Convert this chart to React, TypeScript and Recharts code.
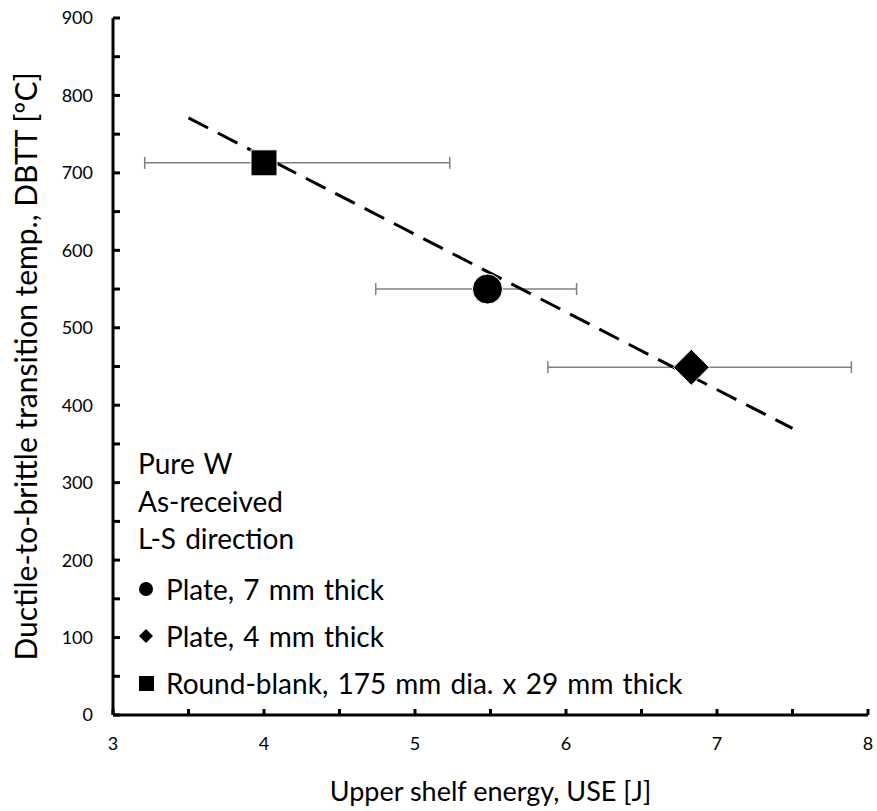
import React from 'react';
import { ScatterChart, Scatter, XAxis, YAxis, ErrorBar, Label } from 'recharts';

// measured points (x = USE [J], y = DBTT [C])
const plate7X = [5.48];
const plate7Y = [550];
const plate7Lo = [4.74];
const plate7Hi = [6.07];

const plate4X = [6.83];
const plate4Y = [449];
const plate4Lo = [5.88];
const plate4Hi = [7.89];

const roundX = [4.0];
const roundY = [713];
const roundLo = [3.21];
const roundHi = [5.23];

// linear fit end points
const fitX = [3.5, 7.5];
const fitY = [771, 370];

const xTicks = [3, 3.5, 4, 4.5, 5, 5.5, 6, 6.5, 7, 7.5, 8];
const yTicks = [0, 50, 100, 150, 200, 250, 300, 350, 400, 450, 500, 550, 600, 650, 700, 750, 800, 850, 900];

const FONT = 'Lato, "Open Sans", sans-serif';

const build = (xs: number[], ys: number[], lo: number[], hi: number[]) =>
  xs.map((x, i) => ({ x, y: ys[i], err: [x - lo[i], hi[i] - x] }));

const plate7 = build(plate7X, plate7Y, plate7Lo, plate7Hi);
const plate4 = build(plate4X, plate4Y, plate4Lo, plate4Hi);
const round = build(roundX, roundY, roundLo, roundHi);
const fit = fitX.map((x, i) => ({ x, y: fitY[i] }));

const XTick = (props: any) => {
  const { x, y, payload } = props;
  if (!Number.isInteger(payload.value)) return <g />;
  return (
    <text x={x} y={y} dy="0.71em" textAnchor="middle" fontSize={18} fontFamily={FONT} fill="#000">
      {payload.value}
    </text>
  );
};

const YTick = (props: any) => {
  const { x, y, payload } = props;
  if (payload.value % 100 !== 0) return <g />;
  return (
    <text x={x} y={y} dy="0.355em" textAnchor="end" fontSize={18} fontFamily={FONT} fill="#000">
      {payload.value}
    </text>
  );
};

const CircleShape = (p: any) => <circle cx={p.cx} cy={p.cy} r={15} fill="#000" stroke="#fff" strokeWidth={1} />;
const SquareShape = (p: any) => <rect x={p.cx - 13} y={p.cy - 13} width={26} height={26} fill="#000" stroke="#fff" strokeWidth={1} />;
const DiamondShape = (p: any) => (
  <polygon
    points={`${p.cx},${p.cy - 18} ${p.cx + 18},${p.cy} ${p.cx},${p.cy + 18} ${p.cx - 18},${p.cy}`}
    fill="#000"
    stroke="#fff"
    strokeWidth={1}
  />
);
const NoShape = () => <g />;

const textStyle: React.CSSProperties = {
  position: 'absolute',
  left: 138,
  fontFamily: FONT,
  fontSize: 28,
  wordSpacing: 2,
  color: '#000',
  whiteSpace: 'nowrap',
  lineHeight: '32px',
  display: 'flex',
  alignItems: 'center',
};

const Mark = ({ kind }: { kind: string }) => (
  <svg width={22} height={16} style={{ marginRight: 6 }}>
    {kind === 'circle' && <circle cx={8} cy={8} r={7} fill="#000" />}
    {kind === 'diamond' && <polygon points="8,1 15,8 8,15 1,8" fill="#000" />}
    {kind === 'square' && <rect x={1} y={1} width={15} height={15} fill="#000" />}
  </svg>
);

export default function App() {
  return (
    <div style={{ position: 'relative', width: 877, height: 811, background: '#fff' }}>
      <style>{'body{margin:0}'}</style>
      <ScatterChart width={877} height={811} margin={{ top: 18, right: 9, left: 0, bottom: 0 }}>
        <XAxis
          type="number"
          dataKey="x"
          domain={[3, 8]}
          ticks={xTicks}
          height={96}
          axisLine={{ stroke: '#000', strokeWidth: 3 }}
          tickLine={{ stroke: '#000', strokeWidth: 3 }}
          tickSize={-6}
          tickMargin={28}
          tick={<XTick />}
          interval={0}
        >
          <Label
            value="Upper shelf energy, USE [J]"
            position="insideBottom"
            offset={10}
            style={{ fontSize: 27, fontFamily: FONT, fill: '#000' }}
          />
        </XAxis>
        <YAxis
          type="number"
          dataKey="y"
          domain={[0, 900]}
          ticks={yTicks}
          width={113}
          axisLine={{ stroke: '#000', strokeWidth: 3 }}
          tickLine={{ stroke: '#000', strokeWidth: 3 }}
          tickSize={-7}
          tickMargin={27}
          tick={<YTick />}
          interval={0}
        >
          <Label
            value="Ductile-to-brittle transition temp., DBTT [ºC]"
            angle={-90}
            position="insideLeft"
            offset={26}
            style={{ fontSize: 30, fontFamily: FONT, fill: '#000', textAnchor: 'middle' }}
          />
        </YAxis>
        <Scatter
          data={fit}
          isAnimationActive={false}
          shape={<NoShape />}
          line={{ stroke: '#000', strokeWidth: 3, strokeDasharray: '22 11' }}
        />
        <Scatter data={round} isAnimationActive={false} shape={<SquareShape />}>
          <ErrorBar dataKey="err" direction="x" stroke="#808080" strokeWidth={1.5} width={6} />
        </Scatter>
        <Scatter data={plate7} isAnimationActive={false} shape={<CircleShape />}>
          <ErrorBar dataKey="err" direction="x" stroke="#808080" strokeWidth={1.5} width={6} />
        </Scatter>
        <Scatter data={plate4} isAnimationActive={false} shape={<DiamondShape />}>
          <ErrorBar dataKey="err" direction="x" stroke="#808080" strokeWidth={1.5} width={6} />
        </Scatter>
      </ScatterChart>
      <div style={{ ...textStyle, top: 447 }}>Pure W</div>
      <div style={{ ...textStyle, top: 485 }}>As-received</div>
      <div style={{ ...textStyle, top: 522 }}>L-S direction</div>
      <div style={{ ...textStyle, top: 573 }}><Mark kind="circle" />Plate, 7 mm thick</div>
      <div style={{ ...textStyle, top: 620 }}><Mark kind="diamond" />Plate, 4 mm thick</div>
      <div style={{ ...textStyle, top: 667 }}><Mark kind="square" />Round-blank, 175 mm dia. x 29 mm thick</div>
    </div>
  );
}
